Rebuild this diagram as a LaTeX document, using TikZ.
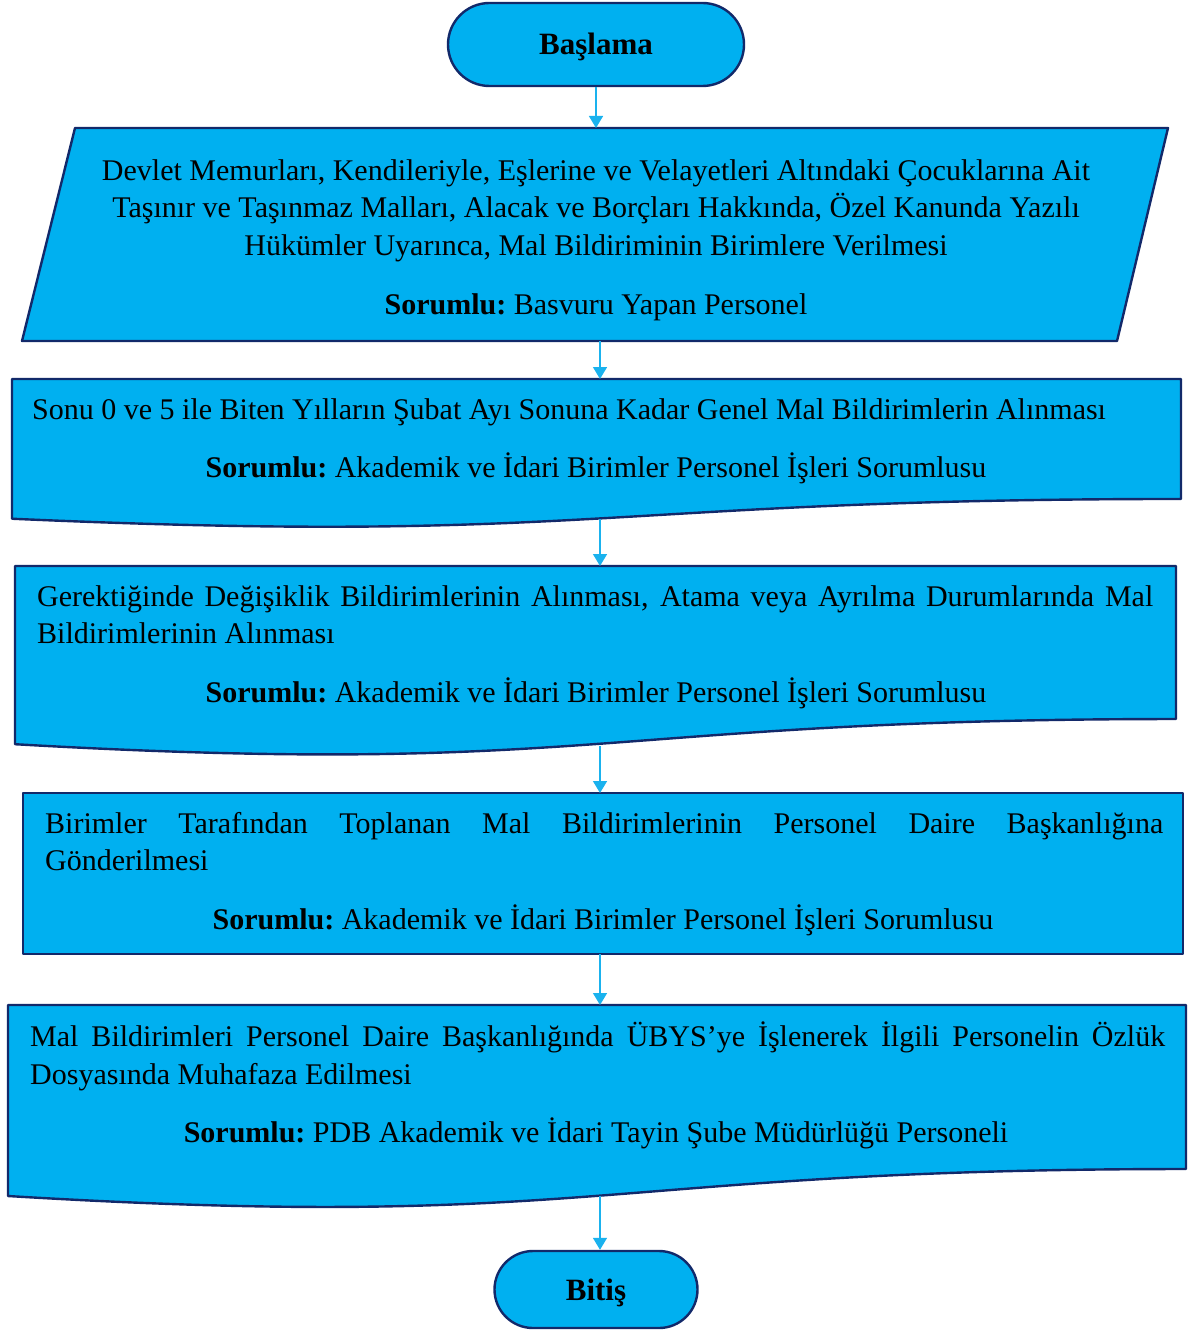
\documentclass[tikz,border=0pt]{standalone}
\usepackage{fontspec}
\setmainfont{Liberation Serif}
\usetikzlibrary{arrows.meta,calc,shapes.misc}
\definecolor{boxfill}{HTML}{00B0F0}
\definecolor{boxline}{HTML}{12296A}
\definecolor{arrowc}{HTML}{1AB2EE}
\tikzset{
  boxstyle/.style={draw=boxline, fill=boxfill, line width=2.4pt, line join=round},
  stadium/.style={boxstyle, shape=rounded rectangle, inner sep=0pt, font=\fontsize{31}{33}\selectfont\bfseries},
  conn/.style={draw=arrowc, line width=1.5pt, -{Triangle[length=12pt,width=14pt]}},
  txt/.style={inner sep=0pt, anchor=base, font=\fontsize{30}{33}\selectfont},
  txtl/.style={txt, anchor=base west},
}
\newcommand{\docshape}[4]{% left, top, right, height
  \draw[boxstyle] (#1,#2) -- (#3,#2) -- (#3,{#2+0.802*#4})
    .. controls ({(#1+#3)/2},{#2+0.802*#4}) and ({(#1+#3)/2},{#2+1.108*#4}) .. (#1,{#2+0.934*#4}) -- cycle;}
\newcommand{\sor}{\textbf{Sorumlu:}\ }
\begin{document}
\begin{tikzpicture}[x=1pt,y=-1pt]
\useasboundingbox (0,0) rectangle (1188,1332);
% start
\node[stadium, minimum width=296pt, minimum height=83pt] (start) at (596,44.5) {\raisebox{0pt}[21pt][0pt]{Başlama}};
% parallelogram
\draw[boxstyle] (75,128) -- (1168,128) -- (1117,341) -- (22,341) -- cycle;
\coordinate (p1t) at (596,128);
\coordinate (p1b) at (600,341);
\node[txt] (p1a) at (596,181) {Devlet Memurları, Kendileriyle, Eşlerine ve Velayetleri Altındaki Çocuklarına Ait};
\node[txt] (p1b2) at (596,218) {Taşınır ve Taşınmaz Malları, Alacak ve Borçları Hakkında, Özel Kanunda Yazılı};
\node[txt] (p1c) at (596,255) {Hükümler Uyarınca, Mal Bildiriminin Birimlere Verilmesi};
\node[txt] (p1s) at (596,314) {\sor Basvuru Yapan Personel};
% doc 1
\docshape{12}{379}{1181}{149.6}
\coordinate (d1t) at (600,379);
\coordinate (d1b) at (600,519);
\node[txtl] (d1a) at (32,419) {Sonu 0 ve 5 ile Biten Yılların Şubat Ayı Sonuna Kadar Genel Mal Bildirimlerin Alınması};
\node[txt] (d1s) at (596,477) {\sor Akademik ve İdari Birimler Personel İşleri Sorumlusu};
% doc 2
\docshape{15}{566}{1176}{190.8}
\coordinate (d2t) at (600,566);
\coordinate (d2b) at (600,746);
\node[txtl] (d2a) at (37,606) {\makebox[1116pt][s]{Gerektiğinde Değişiklik Bildirimlerinin Alınması, Atama veya Ayrılma Durumlarında Mal}};
\node[txtl] (d2b2) at (37,643) {Bildirimlerinin Alınması};
\node[txt] (d2s) at (596,702) {\sor Akademik ve İdari Birimler Personel İşleri Sorumlusu};
% rect
\draw[boxstyle] (23,793) rectangle (1183,954);
\coordinate (r1t) at (600,793);
\coordinate (r1b) at (600,954);
\node[txtl] (r1a) at (45,833) {\makebox[1118pt][s]{Birimler Tarafından Toplanan Mal Bildirimlerinin Personel Daire Başkanlığına}};
\node[txtl] (r1b2) at (45,870) {Gönderilmesi};
\node[txt] (r1s) at (603,929) {\sor Akademik ve İdari Birimler Personel İşleri Sorumlusu};
% doc 3
\docshape{8}{1005}{1186}{204.5}
\coordinate (d3t) at (600,1005);
\coordinate (d3b) at (600,1196);
\node[txtl] (d3a) at (30,1046) {\makebox[1135pt][s]{Mal Bildirimleri Personel Daire Başkanlığında ÜBYS’ye İşlenerek İlgili Personelin Özlük}};
\node[txtl] (d3b2) at (30,1084) {Dosyasında Muhafaza Edilmesi};
\node[txt] (d3s) at (596,1142) {\sor PDB Akademik ve İdari Tayin Şube Müdürlüğü Personeli};
% end
\node[stadium, minimum width=203pt, minimum height=77pt] (stop) at (596,1289.5) {\raisebox{0pt}[21pt][0pt]{Bitiş}};
% connectors
\draw[conn] (start.south) -- (p1t);
\draw[conn] (p1b) -- (d1t);
\draw[conn] (d1b) -- (d2t);
\draw[conn] (d2b) -- (r1t);
\draw[conn] (r1b) -- (d3t);
\draw[conn] (d3b) -- (stop.north -| d3b);
\end{tikzpicture}
\end{document}
